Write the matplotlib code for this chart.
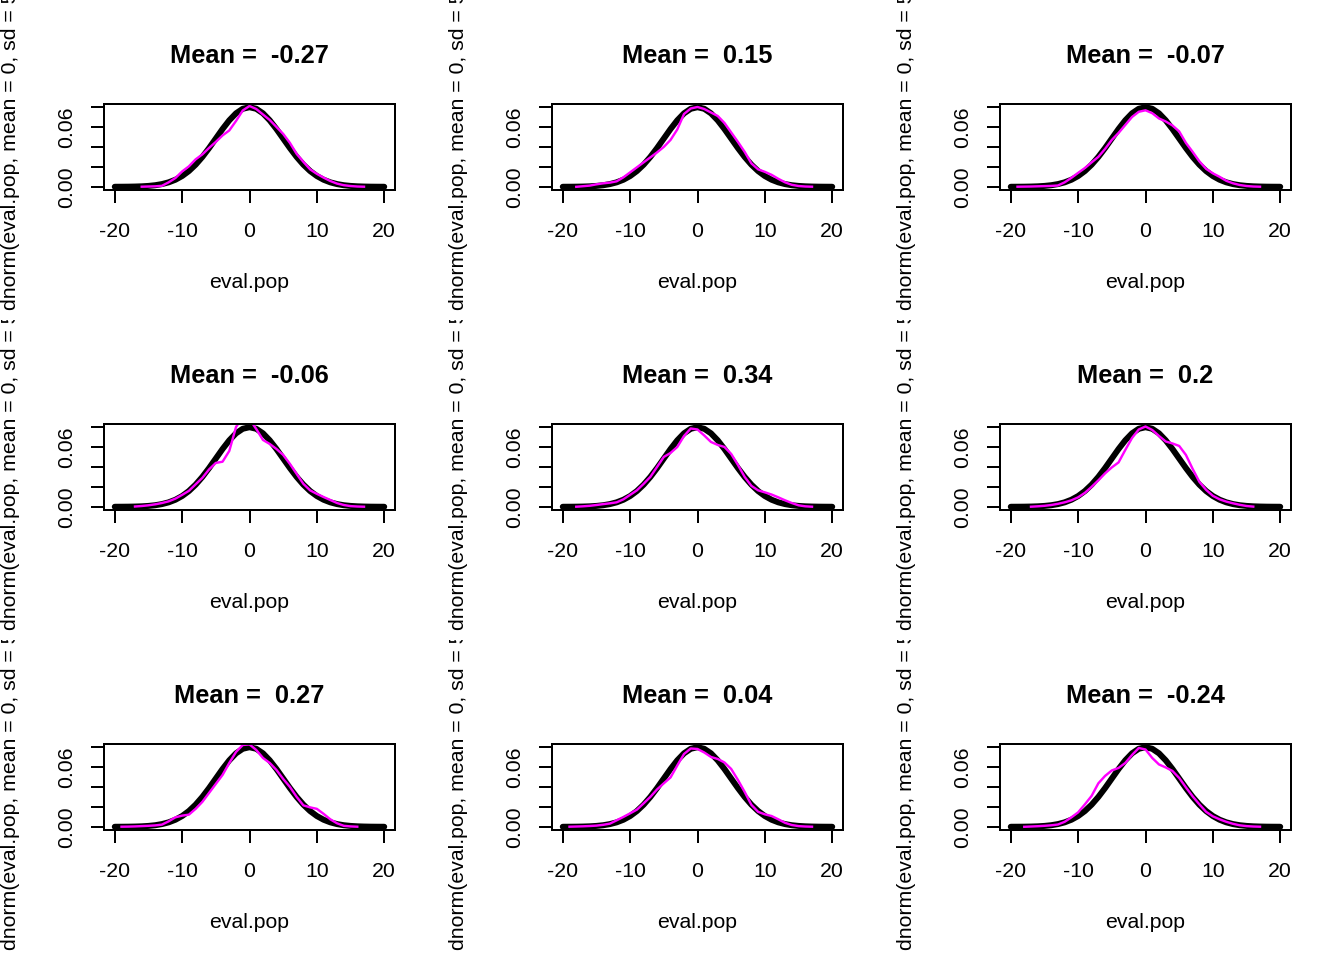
import numpy as np
import matplotlib
matplotlib.use('Agg')
import matplotlib.pyplot as plt
from matplotlib.transforms import Bbox, TransformedBbox

# panel titles (sample means), row by row
MEANS = ['-0.27', '0.15', '-0.07', '-0.06', '0.34', '0.2', '0.27', '0.04', '-0.24']

# black reference curve: dnorm(eval.pop, mean = 0, sd = 5) read at integer x
BLACK_X = list(range(-20, 21))
BLACK_Y = [0.00003, 0.00006, 0.00012, 0.00025, 0.00048, 0.00089, 0.00158, 0.00272,
           0.00448, 0.00709, 0.01080, 0.01579, 0.02218, 0.02995, 0.03884, 0.04839,
           0.05794, 0.06664, 0.07365, 0.07821, 0.07979, 0.07821, 0.07365, 0.06664,
           0.05794, 0.04839, 0.03884, 0.02995, 0.02218, 0.01579, 0.01080, 0.00709,
           0.00448, 0.00272, 0.00158, 0.00089, 0.00048, 0.00025, 0.00012, 0.00006,
           0.00003]

# magenta density curves: first integer x of each curve, then y at every integer step
DENS_START = [-16, -18, -19, -17, -18, -17, -19, -19, -18]
DENS_Y = [
    [0.0001, 0.0003, 0.0005, 0.0010, 0.0045, 0.0088, 0.0154, 0.0205, 0.0275, 0.0325,
     0.0390, 0.0450, 0.0515, 0.0565, 0.0660, 0.0765, 0.0810, 0.0780, 0.0725, 0.0670,
     0.0600, 0.0530, 0.0440, 0.0330, 0.0250, 0.0175, 0.0130, 0.0092, 0.0058, 0.0032,
     0.0016, 0.0008, 0.0003, 0.0001],
    [0.0000, 0.0006, 0.0012, 0.0025, 0.0035, 0.0042, 0.0055, 0.0095, 0.0145, 0.0195,
     0.0245, 0.0295, 0.0345, 0.0400, 0.0470, 0.0575, 0.0730, 0.0785, 0.0800, 0.0780,
     0.0745, 0.0710, 0.0640, 0.0545, 0.0450, 0.0350, 0.0235, 0.0175, 0.0150, 0.0120,
     0.0080, 0.0045, 0.0020, 0.0008, 0.0003, 0.0001],
    [0.0001, 0.0002, 0.0003, 0.0005, 0.0007, 0.0009, 0.0013, 0.0045, 0.0090, 0.0140,
     0.0188, 0.0245, 0.0300, 0.0380, 0.0470, 0.0540, 0.0620, 0.0700, 0.0752, 0.0767,
     0.0738, 0.0685, 0.0655, 0.0615, 0.0555, 0.0440, 0.0350, 0.0255, 0.0180, 0.0135,
     0.0100, 0.0060, 0.0035, 0.0018, 0.0008, 0.0003, 0.0001],
    [0.0003, 0.0008, 0.0015, 0.0025, 0.0038, 0.0055, 0.0082, 0.0120, 0.0160, 0.0225,
     0.0290, 0.0375, 0.0440, 0.0452, 0.0560, 0.0800, 0.0900, 0.0880, 0.0780, 0.0670,
     0.0630, 0.0580, 0.0520, 0.0430, 0.0330, 0.0230, 0.0165, 0.0130, 0.0098, 0.0068,
     0.0038, 0.0018, 0.0007, 0.0003, 0.0001],
    [0.0001, 0.0005, 0.0010, 0.0018, 0.0027, 0.0035, 0.0045, 0.0075, 0.0120, 0.0165,
     0.0230, 0.0300, 0.0400, 0.0500, 0.0540, 0.0600, 0.0710, 0.0785, 0.0775, 0.0715,
     0.0650, 0.0620, 0.0600, 0.0530, 0.0420, 0.0300, 0.0210, 0.0165, 0.0145, 0.0123,
     0.0095, 0.0065, 0.0038, 0.0015, 0.0005, 0.0001],
    [0.0001, 0.0005, 0.0010, 0.0018, 0.0030, 0.0045, 0.0065, 0.0095, 0.0140, 0.0200,
     0.0265, 0.0335, 0.0395, 0.0445, 0.0570, 0.0690, 0.0775, 0.0805, 0.0770, 0.0710,
     0.0655, 0.0635, 0.0610, 0.0520, 0.0380, 0.0250, 0.0170, 0.0110, 0.0075, 0.0052,
     0.0035, 0.0020, 0.0008, 0.0002],
    [0.0001, 0.0002, 0.0004, 0.0007, 0.0010, 0.0014, 0.0022, 0.0055, 0.0095, 0.0112,
     0.0122, 0.0180, 0.0250, 0.0340, 0.0430, 0.0520, 0.0640, 0.0750, 0.0820, 0.0826,
     0.0770, 0.0690, 0.0640, 0.0570, 0.0480, 0.0400, 0.0300, 0.0215, 0.0195, 0.0180,
     0.0130, 0.0075, 0.0035, 0.0010, 0.0004, 0.0001],
    [0.0001, 0.0003, 0.0005, 0.0008, 0.0012, 0.0020, 0.0032, 0.0065, 0.0099, 0.0135,
     0.0172, 0.0235, 0.0300, 0.0375, 0.0436, 0.0495, 0.0615, 0.0730, 0.0785, 0.0780,
     0.0745, 0.0700, 0.0680, 0.0645, 0.0580, 0.0470, 0.0350, 0.0220, 0.0150, 0.0125,
     0.0108, 0.0075, 0.0040, 0.0018, 0.0007, 0.0003, 0.0001],
    [0.0000, 0.0003, 0.0006, 0.0010, 0.0015, 0.0023, 0.0050, 0.0095, 0.0145, 0.0225,
     0.0310, 0.0436, 0.0510, 0.0565, 0.0590, 0.0640, 0.0720, 0.0790, 0.0775, 0.0690,
     0.0625, 0.0595, 0.0560, 0.0490, 0.0395, 0.0305, 0.0225, 0.0150, 0.0105, 0.0075,
     0.0050, 0.0030, 0.0015, 0.0007, 0.0003, 0.0001],
]

X_TICKS = [-20, -10, 0, 10, 20]
Y_TICKS = [0.00, 0.02, 0.04, 0.06, 0.08]
Y_TICK_LABELS = ['0.00', '', '', '0.06', '']
YLAB = 'dnorm(eval.pop, mean = 0, sd = 5)'
XLAB = 'eval.pop'

plt.rcParams['font.family'] = ['Liberation Sans', 'DejaVu Sans']

W, H = 1344, 960
fig = plt.figure(figsize=(W / 144, H / 144), dpi=144)

CELL_W, CELL_H = 448, 320
BOX_L, BOX_T, BOX_W, BOX_H = 104, 104, 291, 86

for i, mean in enumerate(MEANS):
    r, c = divmod(i, 3)
    x0 = c * CELL_W + BOX_L
    y0 = r * CELL_H + BOX_T
    ax = fig.add_axes([x0 / W, 1 - (y0 + BOX_H) / H, BOX_W / W, BOX_H / H])

    ax.plot(BLACK_X, BLACK_Y, color='black', lw=3, solid_capstyle='round')
    dx = np.arange(DENS_START[i], DENS_START[i] + len(DENS_Y[i]))
    ax.plot(dx, DENS_Y[i], color='#ff00ff', lw=1.2)

    ax.set_xlim(-21.6, 21.6)
    ax.set_ylim(-0.0032, 0.0830)
    ax.set_xticks(X_TICKS)
    ax.set_xticklabels([str(t) for t in X_TICKS])
    ax.set_yticks(Y_TICKS)
    ax.set_yticklabels(Y_TICK_LABELS)
    ax.tick_params(axis='both', direction='out', length=6.5, width=1,
                   labelsize=10.6)
    ax.tick_params(axis='x', pad=9.5)
    ax.tick_params(axis='y', pad=7.5)
    for lab in ax.get_yticklabels():
        lab.set_rotation(90)
        lab.set_va('center')
    for s in ax.spines.values():
        s.set_linewidth(1)

    cx = (x0 + BOX_W / 2) / W
    fig.text(cx, 1 - (r * CELL_H + 56) / H, 'Mean =  ' + mean,
             ha='center', va='center', fontsize=12.7, fontweight='bold')
    fig.text(cx, 1 - (r * CELL_H + 283) / H, XLAB,
             ha='center', va='center', fontsize=10.6)

    # y label is clipped to its own figure cell, as R does
    yl = fig.text((c * CELL_W + 11) / W, 1 - (y0 + BOX_H / 2) / H, YLAB,
                  rotation=90, ha='center', va='center', fontsize=10.6,
                  clip_on=True)
    cell = Bbox([[c * CELL_W / W, 1 - (r + 1) * CELL_H / H],
                 [(c + 1) * CELL_W / W, 1 - r * CELL_H / H]])
    yl.set_clip_box(TransformedBbox(cell, fig.transFigure))

fig.savefig('out.png', dpi=144)
